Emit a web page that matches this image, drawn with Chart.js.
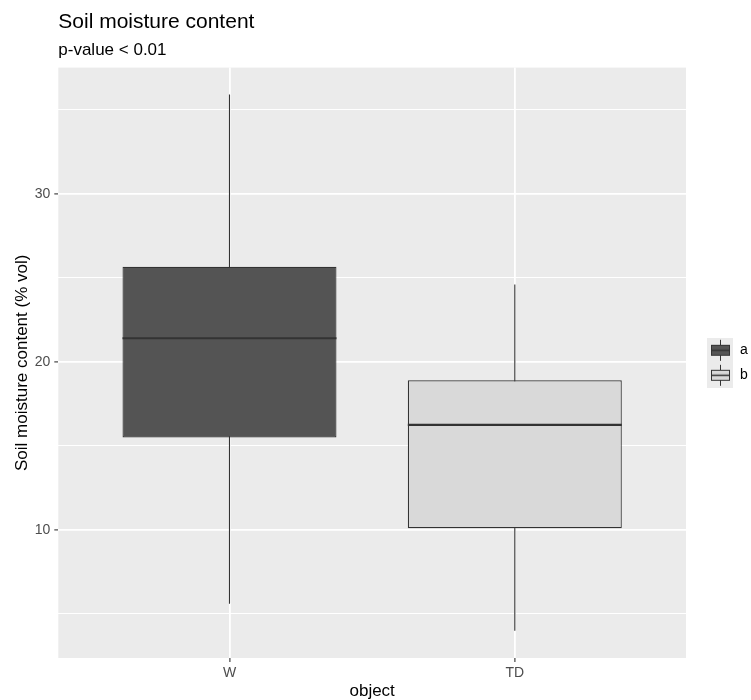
<!DOCTYPE html>
<html>
<head>
<meta charset="utf-8">
<script src="https://cdn.jsdelivr.net/npm/chart.js@4/dist/chart.umd.min.js"></script>
<style>
  html, body { margin: 0; padding: 0; background: #fff; }
  #wrap { width: 751px; height: 700px; }
</style>
</head>
<body>
<div id="wrap"><canvas id="boxChart"></canvas></div>
<script>
const categories = ['W', 'TD'];
const categoryPos = [1, 2];
const groups = ['a', 'b'];
const whiskerLow = [5.6, 4.0];
const q1 = [15.5, 10.1];
const median = [21.4, 16.25];
const q3 = [25.65, 18.9];
const whiskerHigh = [35.9, 24.6];
const yTicks = [5, 10, 15, 20, 25, 30, 35];
const fillColors = ['#545454', '#d9d9d9'];
const boxWidth = 0.75;

// legend key: a tiny boxplot glyph
function keyGlyph(fill) {
    const c = document.createElement('canvas');
    c.width = 36; c.height = 25;
    const g = c.getContext('2d');
    g.fillStyle = '#ebebeb';
    g.fillRect(10, 0, 26, 25);
    g.strokeStyle = '#333';
    g.lineWidth = 1;
    g.beginPath();
    g.moveTo(23.5, 2); g.lineTo(23.5, 23);
    g.stroke();
    g.fillStyle = fill;
    g.fillRect(14.5, 7.5, 18, 10);
    g.strokeRect(14.5, 7.5, 18, 10);
    g.lineWidth = 1.5;
    g.beginPath();
    g.moveTo(14.5, 12.5); g.lineTo(32.5, 12.5);
    g.stroke();
    return c;
}
const keyImages = fillColors.map(keyGlyph);

const whiskerData = [];
const medianData = [];
categoryPos.forEach((x, i) => {
    whiskerData.push({ x: x, y: whiskerLow[i] }, { x: x, y: whiskerHigh[i] }, { x: x + 0.5, y: null });
    medianData.push({ x: x - boxWidth / 2, y: median[i] }, { x: x + boxWidth / 2, y: median[i] }, { x: x + 0.5, y: null });
});

const panelBg = {
    id: 'panelBg',
    beforeDraw(chart) {
        const a = chart.chartArea;
        const ctx = chart.ctx;
        ctx.save();
        ctx.fillStyle = '#ebebeb';
        ctx.fillRect(a.left, a.top, a.right - a.left, a.bottom - a.top);
        ctx.restore();
    }
};

const font = 'Liberation Sans, Arial, sans-serif';

new Chart(document.getElementById('boxChart'), {
    type: 'bar',
    data: {
        datasets: [
            {
                label: 'box',
                data: categoryPos.map((x, i) => ({ x: x, y: [q1[i], q3[i]] })),
                backgroundColor: fillColors,
                borderColor: '#333333',
                borderWidth: 1.2,
                borderSkipped: false,
                barPercentage: boxWidth,
                categoryPercentage: 1,
                order: 1
            },
            {
                type: 'line',
                label: 'median',
                data: medianData,
                borderColor: '#333333',
                borderWidth: 2.2,
                pointRadius: 0,
                spanGaps: false,
                order: 0
            },
            {
                type: 'line',
                label: 'whisker',
                data: whiskerData,
                borderColor: '#333333',
                borderWidth: 1.1,
                pointRadius: 0,
                spanGaps: false,
                order: 2
            }
        ]
    },
    options: {
        responsive: true,
        maintainAspectRatio: false,
        animation: false,
        layout: { padding: 0 },
        scales: {
            x: {
                type: 'linear',
                min: 0.4,
                max: 2.6,
                offset: false,
                afterBuildTicks: (scale) => { scale.ticks = categoryPos.map(v => ({ value: v })); },
                afterFit: (scale) => { scale.height = 42; },
                border: { display: false },
                grid: {
                    offset: false,
                    color: '#ffffff',
                    lineWidth: 1.8,
                    tickLength: 4,
                    tickColor: '#333333',
                    tickWidth: 1.1
                },
                ticks: {
                    padding: 3,
                    color: '#4d4d4d',
                    font: { family: font, size: 14 },
                    callback: (v, i) => categories[i]
                },
                title: {
                    display: true,
                    text: 'object',
                    color: '#000',
                    font: { family: font, size: 17, lineHeight: 1.05 },
                    padding: { top: 0, bottom: 0 }
                }
            },
            y: {
                type: 'linear',
                min: 2.38,
                max: 37.5,
                afterBuildTicks: (scale) => { scale.ticks = yTicks.map(v => ({ value: v })); },
                afterFit: (scale) => { scale.width = 58.3; },
                border: { display: false },
                grid: {
                    color: '#ffffff',
                    lineWidth: (c) => (c.tick && c.tick.value % 10 === 0 ? 1.8 : 1.0),
                    tickLength: 4,
                    tickColor: (c) => (c.tick && c.tick.value % 10 === 0 ? '#333333' : 'rgba(0,0,0,0)'),
                    tickWidth: 1.1
                },
                ticks: {
                    padding: 4,
                    color: '#4d4d4d',
                    font: { family: font, size: 14 },
                    callback: (v) => (v % 10 === 0 ? String(v) : '')
                },
                title: {
                    display: true,
                    text: 'Soil moisture content (% vol)',
                    color: '#000',
                    font: { family: font, size: 17, lineHeight: 1.2 },
                    padding: { top: 12, bottom: 2 }
                }
            }
        },
        plugins: {
            title: {
                display: true,
                text: 'Soil moisture content',
                align: 'start',
                fullSize: false,
                color: '#000',
                font: { family: font, size: 21, weight: 'normal', lineHeight: 1.2 },
                padding: { top: 10, bottom: 5 }
            },
            subtitle: {
                display: true,
                text: 'p-value < 0.01',
                align: 'start',
                fullSize: false,
                color: '#000',
                font: { family: font, size: 17, lineHeight: 1.2 },
                padding: { top: 0, bottom: 7 }
            },
            legend: {
                position: 'right',
                fullSize: false,
                maxWidth: 65,
                labels: {
                    usePointStyle: true,
                    pointStyleWidth: 36,
                    padding: 11,
                    color: '#000',
                    font: { family: font, size: 14 },
                    generateLabels: () => groups.map((g, i) => ({
                        text: g,
                        pointStyle: keyImages[i],
                        fillStyle: fillColors[i],
                        strokeStyle: '#333',
                        lineWidth: 0,
                        hidden: false,
                        datasetIndex: 0
                    }))
                }
            },
            tooltip: { enabled: false }
        }
    },
    plugins: [panelBg]
});
</script>
</body>
</html>
